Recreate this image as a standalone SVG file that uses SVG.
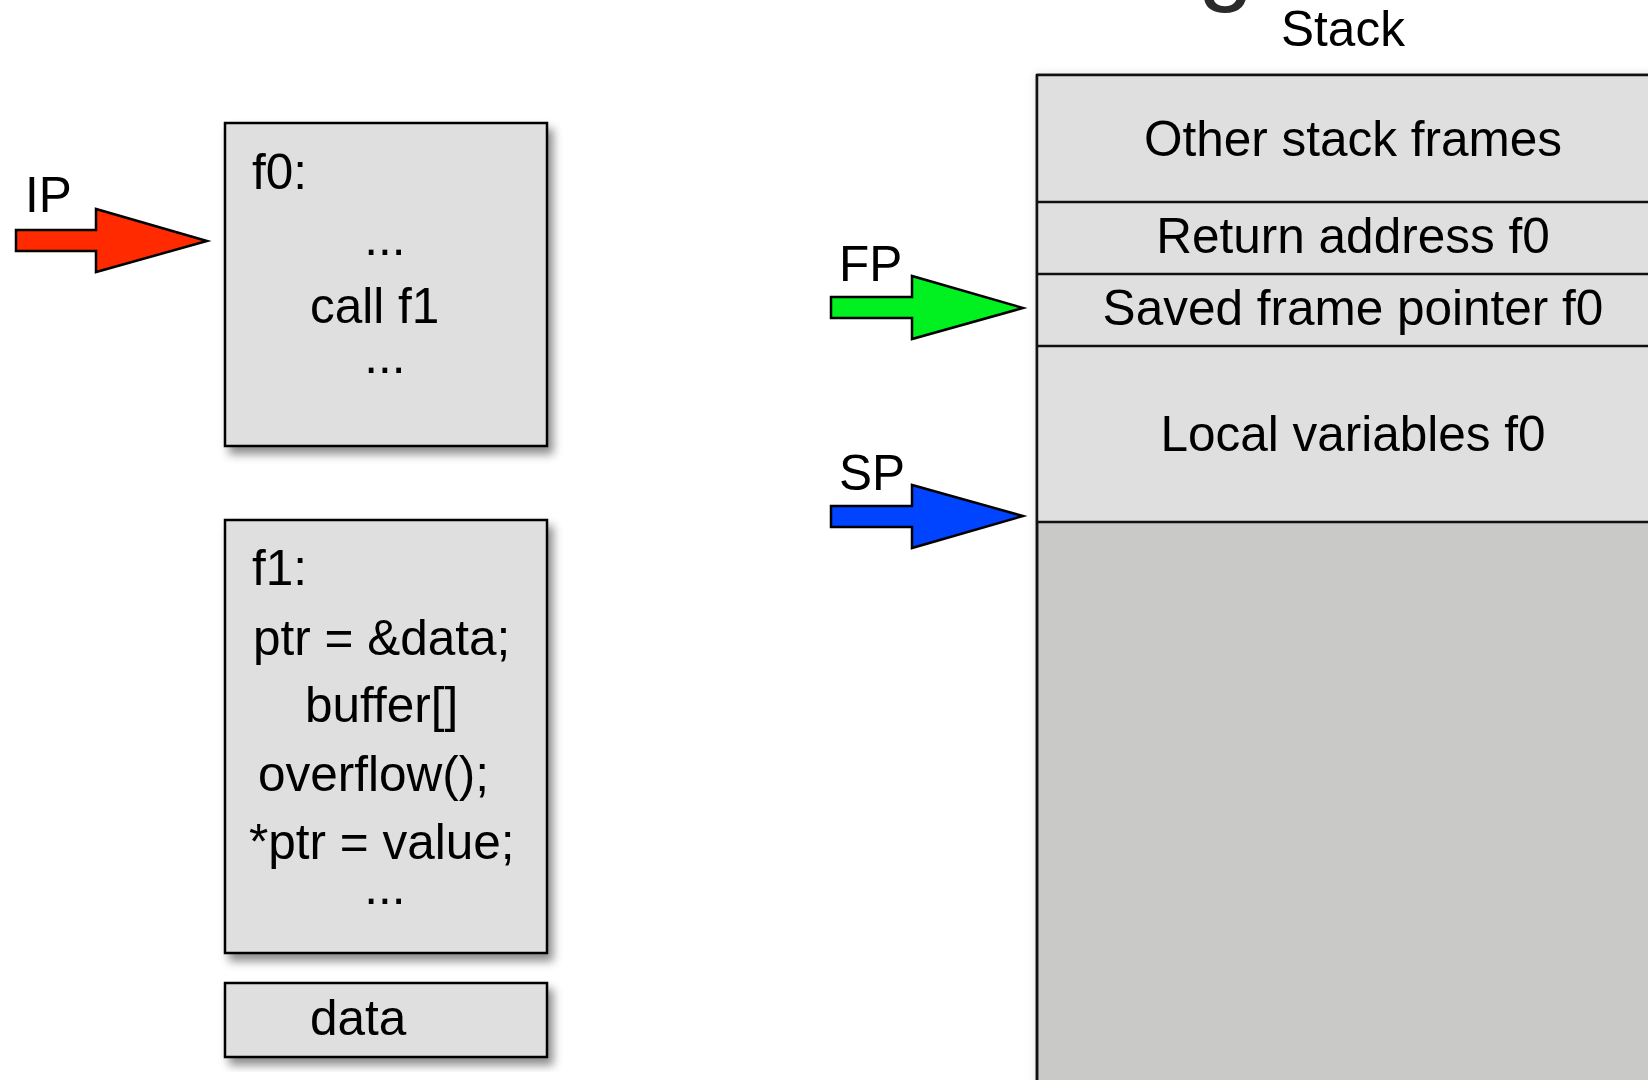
<svg xmlns="http://www.w3.org/2000/svg" width="1648" height="1080" viewBox="0 0 1648 1080">
<defs>
<filter id="shadow" x="-20%" y="-20%" width="140%" height="140%">
<feDropShadow dx="5" dy="7" stdDeviation="5" flood-color="#000" flood-opacity="0.45"/>
</filter>
<filter id="glow" x="-10%" y="-10%" width="120%" height="120%">
<feDropShadow dx="0" dy="0" stdDeviation="4" flood-color="#000" flood-opacity="0.12"/>
</filter>
<style>
text{font-family:"Liberation Sans",Arial,Helvetica,sans-serif;font-size:49.5px;fill:#000}
.box{fill:#dfdfdf;stroke:#000;stroke-width:2.5}
.mid{text-anchor:middle}
.div{stroke:#111;stroke-width:2.5}
.arrow{stroke:#000;stroke-width:2.5;stroke-linejoin:miter}
</style>
</defs>
<rect width="1648" height="1080" fill="#fff"/>

<text x="1198" y="-8" style="font-size:100px;fill:#2a2a2a">g</text>
<text x="1343" y="46" class="mid">Stack</text>

<g id="stack">
<rect x="1037" y="75" width="700" height="1100" fill="#c9c9c8" stroke="#000" stroke-width="2.5" filter="url(#glow)"/>
<rect x="1037" y="75" width="700" height="447" fill="#dfdfdf"/>
<line class="div" x1="1037" y1="75" x2="1648" y2="75"/>
<line class="div" x1="1037" y1="75" x2="1037" y2="1080"/>
<g id="other-frames"><text x="1353" y="156" class="mid">Other stack frames</text></g>
<line class="div" x1="1037" y1="202" x2="1648" y2="202"/>
<g id="return-address"><text x="1353" y="253" class="mid">Return address f0</text></g>
<line class="div" x1="1037" y1="274" x2="1648" y2="274"/>
<g id="saved-fp"><text x="1353" y="325" class="mid">Saved frame pointer f0</text></g>
<line class="div" x1="1037" y1="346" x2="1648" y2="346"/>
<g id="locals"><text x="1353" y="451" class="mid">Local variables f0</text></g>
<line class="div" x1="1037" y1="522" x2="1648" y2="522"/>
</g>

<g id="f0">
<rect class="box" x="225" y="123" width="322" height="323" filter="url(#shadow)"/>
<text x="252" y="189">f0:</text>
<text x="385" y="255" class="mid">...</text>
<text x="310" y="323">call f1</text>
<text x="385" y="373" class="mid">...</text>
</g>

<g id="f1">
<rect class="box" x="225" y="520" width="322" height="433" filter="url(#shadow)"/>
<text x="252" y="585">f1:</text>
<text x="253" y="655">ptr = &amp;data;</text>
<text x="305" y="722">buffer[]</text>
<text x="258" y="791">overflow();</text>
<text x="249" y="859">*ptr = value;</text>
<text x="385" y="904" class="mid">...</text>
</g>

<g id="data">
<rect class="box" x="225" y="983" width="322" height="74" filter="url(#shadow)"/>
<text x="310" y="1035">data</text>
</g>

<g id="labels">
<text x="25" y="212">IP</text>
<text x="839" y="281">FP</text>
<text x="839" y="490">SP</text>
</g>

<g id="connectors">
<polygon id="ip-arrow" class="arrow" fill="#ff2a00" points="16,230 96,230 96,209 207,241 96,272 96,251 16,251"/>
<polygon id="fp-arrow" class="arrow" fill="#00f020" points="831,297 912,297 912,276 1023,308 912,339 912,318 831,318"/>
<polygon id="sp-arrow" class="arrow" fill="#0044ff" points="831,506 912,506 912,485 1023,516 912,548 912,527 831,527"/>
</g>
</svg>
